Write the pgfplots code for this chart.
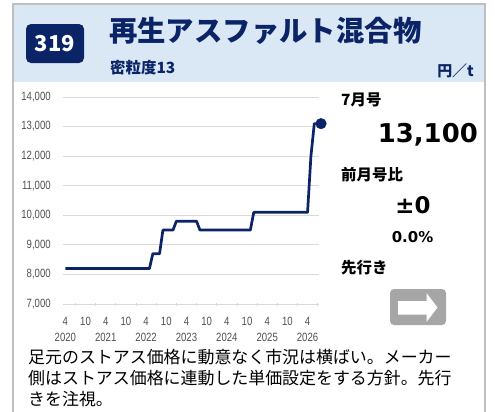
\documentclass[border=0pt]{standalone}
\usepackage{fontspec}
\usepackage{pgfplots}
\pgfplotsset{compat=1.18}
\setmainfont{Noto Sans CJK JP}
\newfontfamily\tickfont{Liberation Sans}[FakeStretch=0.8]
\newfontfamily\numfont{DejaVu Sans}
\definecolor{navy}{HTML}{0B2467}
\definecolor{hdr}{RGB}{218,232,246}
\definecolor{framec}{RGB}{191,191,191}
\definecolor{tickgray}{RGB}{80,80,80}
\definecolor{gridc}{RGB}{217,217,217}
\definecolor{arrowgray}{RGB}{166,166,166}
\begin{document}
\begin{tikzpicture}
\useasboundingbox (0,0) rectangle (495bp,-412bp);
\begin{scope}[x=1bp,y=-1bp]
\fill[white] (0,0) rectangle (495,412);
\fill[hdr] (13,4) rectangle (485,82);
\draw[framec, line width=2bp] (13,412) -- (13,4) -- (485,4) -- (485,412);
\fill[navy, rounded corners=5bp] (26,24) rectangle (84,63);
\node[white, inner sep=0, font=\fontsize{22}{22}\selectfont\bfseries] at (55,43.5) {319};
\node[navy, anchor=west, inner sep=0, font=\fontsize{28.5}{28}\selectfont\bfseries] at (109,31) {再生アスファルト混合物};
\node[navy, anchor=west, inner sep=0, font=\fontsize{15.5}{16}\selectfont\bfseries] at (110,67.5) {密粒度13};
\node[navy, anchor=east, inner sep=0, font=\fontsize{15}{16}\selectfont\bfseries] at (474,71) {円／t};
% right panel
\node[anchor=west, inner sep=0, font=\fontsize{15.5}{16}\selectfont\bfseries] at (341,100) {7月号};
\node[anchor=east, inner sep=0, font=\numfont\fontsize{26}{26}\selectfont\bfseries] at (478,134.5) {13,100};
\node[anchor=west, inner sep=0, font=\fontsize{15.5}{16}\selectfont\bfseries] at (341,175) {前月号比};
\node[inner sep=0, font=\numfont\fontsize{23}{23}\selectfont\bfseries] at (413,205) {±0};
\node[inner sep=0, font=\numfont\fontsize{15}{15}\selectfont\bfseries] at (412.5,237.5) {0.0\%};
\node[anchor=west, inner sep=0, font=\fontsize{15.5}{16}\selectfont\bfseries] at (341,267.5) {先行き};
\fill[arrowgray, rounded corners=4bp] (390,289) rectangle (446,325);
\fill[white] (398,301) -- (426.5,301) -- (426.5,293) -- (437.5,307.5) -- (426.5,322) -- (426.5,314.5) -- (398,314.5) -- cycle;
% bottom text
\node[anchor=north west, inner sep=0, align=left, font=\fontsize{17}{21.3}\selectfont] at (28,349) {足元のストアス価格に動意なく市況は横ばい。メーカー\\側はストアス価格に連動した単価設定をする方針。先行\\きを注視。};
\end{scope}
\begin{axis}[
  at={(63bp,-304bp)}, anchor=south west,
  scale only axis, width=256bp, height=207bp,
  xmin=-0.7, xmax=75.4, ymin=7000, ymax=14000,
  clip=false,
  axis line style={draw=none},
  ymajorgrids, grid style={draw=gridc, line width=0.8bp},
  ytick={7000,8000,...,14000},
  scaled y ticks=false,
  yticklabel style={font=\tickfont\fontsize{12}{13}\selectfont, text=tickgray, anchor=east, inner sep=0pt, xshift=-10bp,
    /pgf/number format/fixed, /pgf/number format/1000 sep={,}, /pgf/number format/assume math mode=true},
  ytick style={draw=none},
  xtick={0,6,...,72},
  xticklabels={{4\\2020},10,{4\\2021},10,{4\\2022},10,{4\\2023},10,{4\\2024},10,{4\\2025},10,{4\\2026}},
  xticklabel style={font=\tickfont\fontsize{12}{16.5}\selectfont, text=tickgray, align=center, anchor=north, inner sep=0pt, yshift=-11bp},
  major x tick style={draw=none},
  minor xtick={3,9,...,75},
  minor x tick style={draw=gridc, line width=0.8bp},
  minor tick length=3bp,
  tick align=center,
  xtick pos=left,
]
\addplot[navy, line width=2.7bp, line join=round] coordinates {
(0,8200)(1,8200)(2,8200)(3,8200)(4,8200)(5,8200)(6,8200)(7,8200)(8,8200)(9,8200)
(10,8200)(11,8200)(12,8200)(13,8200)(14,8200)(15,8200)(16,8200)(17,8200)(18,8200)(19,8200)
(20,8200)(21,8200)(22,8200)(23,8200)(24,8200)(25,8200)(26,8700)(27,8700)(28,8700)(29,9500)
(30,9500)(31,9500)(32,9500)(33,9800)(34,9800)(35,9800)(36,9800)(37,9800)(38,9800)(39,9800)
(40,9500)(41,9500)(42,9500)(43,9500)(44,9500)(45,9500)(46,9500)(47,9500)(48,9500)(49,9500)
(50,9500)(51,9500)(52,9500)(53,9500)(54,9500)(55,9500)(56,10100)(57,10100)(58,10100)(59,10100)
(60,10100)(61,10100)(62,10100)(63,10100)(64,10100)(65,10100)(66,10100)(67,10100)(68,10100)(69,10100)
(70,10100)(71,10100)(72,10100)(73,12000)(74,13100)(75,13100)
};
\addplot[navy, only marks, mark=*, mark size=5.3bp] coordinates {(76,13100)};
\end{axis}
\end{tikzpicture}
\end{document}
